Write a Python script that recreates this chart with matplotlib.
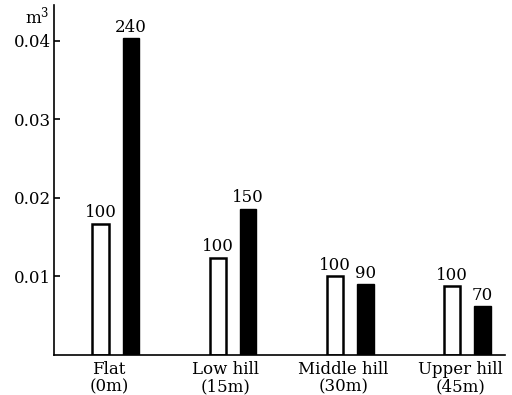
import numpy as np
import matplotlib
matplotlib.use("Agg")
import matplotlib.pyplot as plt

# data
categories = ["Flat\n(0m)", "Low hill\n(15m)", "Middle hill\n(30m)", "Upper hill\n(45m)"]
white_vals = [0.0167, 0.0124, 0.0100, 0.0088]
black_vals = [0.0403, 0.0186, 0.0090, 0.0062]
white_labels = ["100", "100", "100", "100"]
black_labels = ["240", "150", "90", "70"]
yticks = [0.01, 0.02, 0.03, 0.04]

plt.rcParams["font.family"] = ["DejaVu Serif"]
plt.rcParams["mathtext.fontset"] = "dejavuserif"

fig = plt.figure(figsize=(5.12, 3.95), dpi=100)
ax = fig.add_axes([0.105, 0.101, 0.881, 0.886])

x = np.arange(len(categories))
w = 0.14
off = 0.13

ax.bar(x - off, white_vals, width=w, color="white", edgecolor="black", linewidth=1.8)
ax.bar(x + off, black_vals, width=w, color="black", edgecolor="black", linewidth=1.0)

for xi, v, t in zip(x - off, white_vals, white_labels):
    ax.text(xi, v + 0.0003, t, ha="center", va="bottom", fontsize=12)
for xi, v, t in zip(x + off, black_vals, black_labels):
    ax.text(xi, v + 0.0003, t, ha="center", va="bottom", fontsize=12)

ax.set_xlim(-0.53, 3.32)
ax.set_ylim(0, 0.0445)
ax.set_yticks(yticks)
ax.set_yticklabels(["0.01", "0.02", "0.03", "0.04"], fontsize=12)
ax.set_xticks(x - 0.06)
ax.set_xticklabels(categories, fontsize=12, linespacing=1.05)
ax.tick_params(axis="x", length=0, pad=4)
ax.tick_params(axis="y", direction="in", length=4, width=1.2, pad=2)

for s in ["top", "right"]:
    ax.spines[s].set_visible(False)
ax.spines["left"].set_linewidth(1.2)
ax.spines["bottom"].set_linewidth(1.2)

ax.text(-0.01, 1.0, "m$^3$", transform=ax.transAxes, ha="right", va="top", fontsize=12)

fig.savefig("out.png", dpi=100)
